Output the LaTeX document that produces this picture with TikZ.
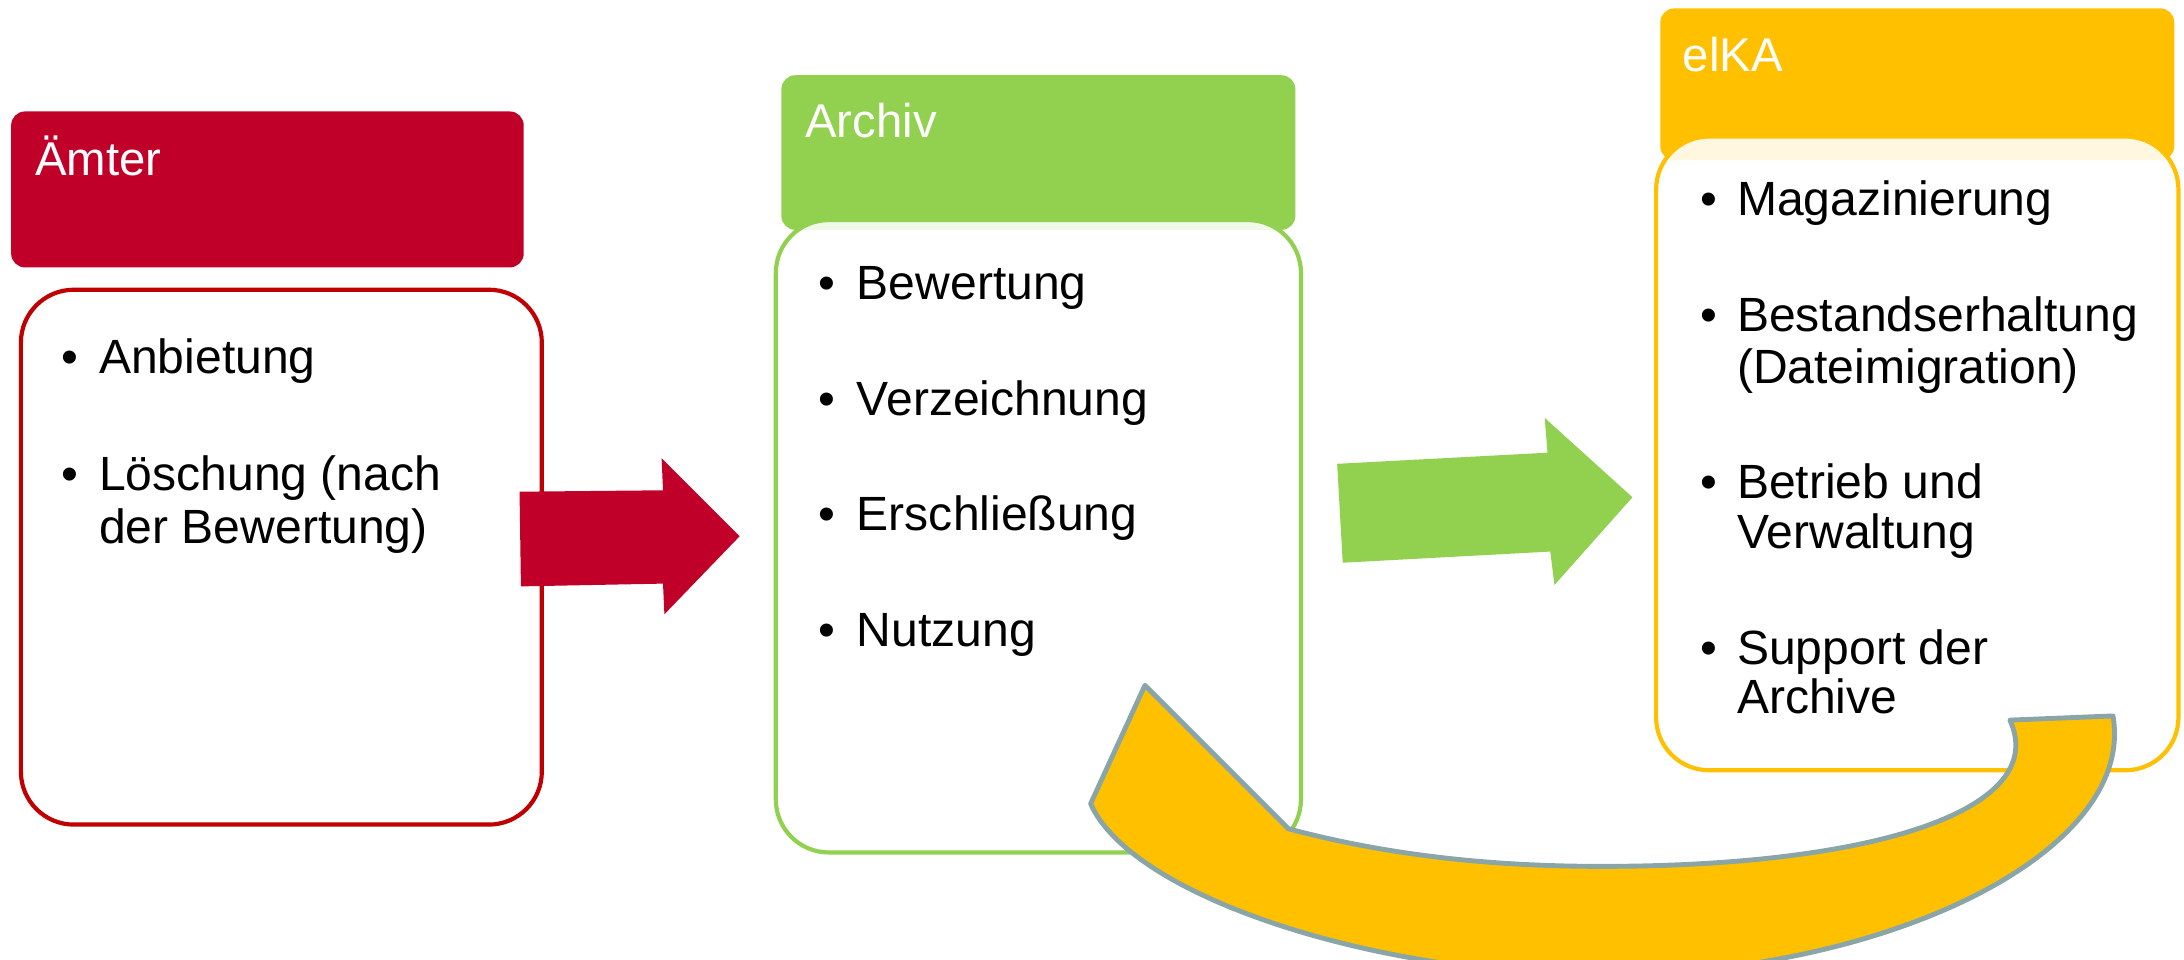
\documentclass[tikz,border=0pt]{standalone}
\usepackage{fontspec}
\setmainfont{Liberation Sans}
\definecolor{amtred}{HTML}{C00028}
\definecolor{amtline}{HTML}{C00000}
\definecolor{archgreen}{HTML}{92D050}
\definecolor{elkagold}{HTML}{FFC000}
\definecolor{arrowgray}{HTML}{8AA5A8}
\tikzset{
	headbox/.style={fill=#1, rounded corners=10pt},
	bodybox/.style={draw=#1, line width=3pt, fill=white, fill opacity=0.88, rounded corners=38pt},
	title/.style={anchor=base west, inner sep=0pt, text=white, font=\fontsize{34}{40}\selectfont},
	item/.style={anchor=base west, inner sep=0pt, font=\fontsize{34.5}{40}\selectfont},
	dot/.style={anchor=base, inner sep=0pt, font=\fontsize{34.5}{40}\selectfont},
}
\begin{document}
\begin{tikzpicture}[x=1pt,y=-1pt]
		\useasboundingbox (0,0) rectangle (1568,689);
		\clip (0,0) rectangle (1568,689);
		% boxes
		\fill[headbox=amtred] (8,80) rectangle (376,192);
		\draw[bodybox=amtline] (15,208) rectangle (389,592);
		\fill[headbox=archgreen] (561,54) rectangle (930,165);
		\draw[bodybox=archgreen] (557,158) rectangle (934,612);
		\fill[headbox=elkagold] (1192,6) rectangle (1561,115);
		\draw[bodybox=elkagold] (1189,98) rectangle (1564,553);
		% titles
		\node[title] (amt) at (25,126) {Ämter};
		\node[title] (archiv) at (578,99) {Archiv};
		\node[title] (elka) at (1208,51) {elKA};
		% Ämter
		\node[dot] (b1) at (50,268) {•};
		\node[item] (anb) at (71,268) {Anbietung};
		\node[dot] (b2) at (50,352) {•};
		\node[item] (loe) at (71,352) {Löschung (nach};
		\node[item] (loe2) at (71,390) {der Bewertung)};
		% Archiv
		\node[dot] (b3) at (594,215) {•};
		\node[item] (bew) at (615,215) {Bewertung};
		\node[dot] (b4) at (594,298) {•};
		\node[item] (verz) at (615,298) {Verzeichnung};
		\node[dot] (b5) at (594,381) {•};
		\node[item] (ersch) at (615,381) {Erschließung};
		\node[dot] (b6) at (594,464) {•};
		\node[item] (nutz) at (615,464) {Nutzung};
		% elKA
		\node[dot] (b7) at (1227,155) {•};
		\node[item] (mag) at (1247,155) {Magazinierung};
		\node[dot] (b8) at (1227,238) {•};
		\node[item] (best) at (1247,238) {Bestandserhaltung};
		\node[item] (best2) at (1247,275) {(Dateimigration)};
		\node[dot] (b9) at (1227,358) {•};
		\node[item] (betr) at (1247,358) {Betrieb und};
		\node[item] (betr2) at (1247,394) {Verwaltung};
		\node[dot] (b10) at (1227,477) {•};
		\node[item] (supp) at (1247,477) {Support der};
		\node[item] (supp2) at (1247,512) {Archive};
		% arrows
		\fill[amtred] (373,353) -- (476,352) -- (475,329) -- (531,385) -- (477,441) -- (476,419) -- (374,421) -- cycle;
		\fill[archgreen] (960,333) -- (1111,325) -- (1109,300) -- (1172,357) -- (1116,420) -- (1113,396) -- (964,404) -- cycle;
		\filldraw[fill=elkagold, draw=arrowgray, line width=3.5pt, line join=round]
			(1517,514) .. controls (1534,612) and (1354,700) .. (1150,700)
			.. controls (985,700) and (812,643) .. (783,577) -- (822,492) -- (925,595)
			.. controls (1000,615) and (1075,622) .. (1150,622)
			.. controls (1350,622) and (1472,580) .. (1443,517) -- cycle;
	\end{tikzpicture}
\end{document}
